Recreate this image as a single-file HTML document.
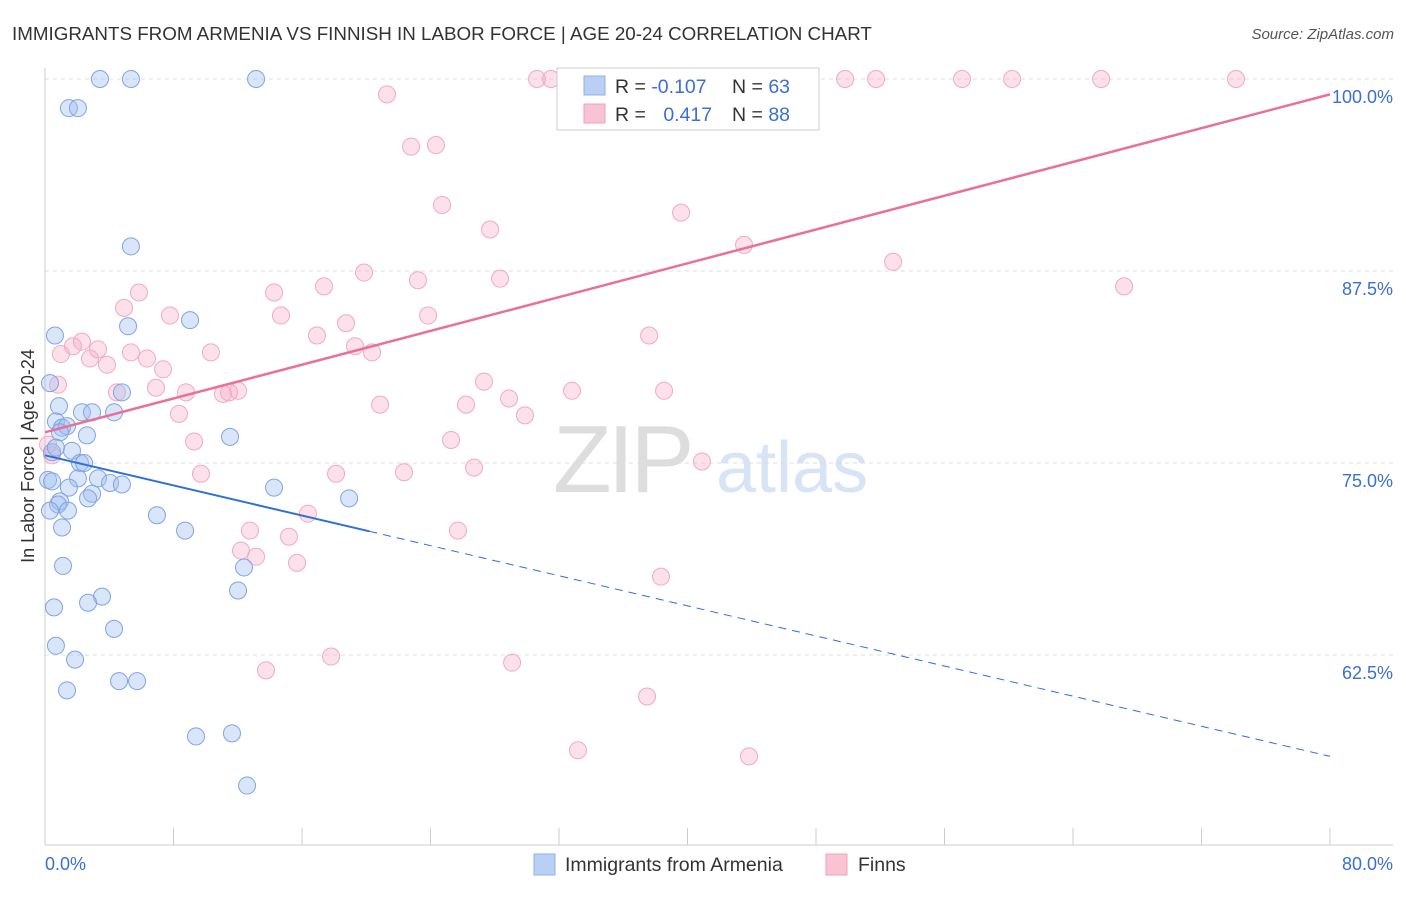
<!DOCTYPE html>
<html><head><meta charset="utf-8"><style>
body{margin:0;background:#fff;font-family:"Liberation Sans",sans-serif}
svg text{font-family:"Liberation Sans",sans-serif}
</style></head><body>
<svg width="1406" height="892" xmlns="http://www.w3.org/2000/svg">
<text x="12" y="40" font-size="18.8" fill="#333">IMMIGRANTS FROM ARMENIA VS FINNISH IN LABOR FORCE | AGE 20-24 CORRELATION CHART</text>
<text x="1394" y="39" font-size="15" fill="#555" text-anchor="end" font-style="italic">Source: ZipAtlas.com</text>
<g><text x="553" y="492" font-size="96" fill="#ddd" font-family="Liberation Serif" letter-spacing="-4">ZIP</text><text x="716" y="492" font-size="72" fill="#d6e4f5">atlas</text></g>
<g id="grid"></g>
<g id="axes"></g>
<g id="marks"></g>
<g id="trend"></g>
<g>
<rect x="557" y="68" width="262" height="62" fill="#fff" stroke="#ccc"/>
<rect x="584" y="76" width="21" height="19" fill="#b9cff3" stroke="#8fb0e8"/>
<rect x="584" y="104" width="21" height="19" fill="#f9c3d3" stroke="#f0a0b8"/>
<text x="615" y="93" font-size="19.5" fill="#333">R = <tspan fill="#3b6fd4">-0.107</tspan></text>
<text x="732" y="93" font-size="19.5" fill="#333">N = <tspan fill="#3b6fd4">63</tspan></text>
<text x="615" y="121" font-size="19.5" fill="#333">R = <tspan fill="#3b6fd4" dx="12">0.417</tspan></text>
<text x="732" y="121" font-size="19.5" fill="#333">N = <tspan fill="#3b6fd4">88</tspan></text>
</g>
<g>
<rect x="534" y="854" width="21" height="21" fill="#b9cff3" stroke="#8fb0e8"/>
<text x="565" y="871" font-size="19.5" fill="#333">Immigrants from Armenia</text>
<rect x="826" y="854" width="21" height="21" fill="#f9c3d3" stroke="#f0a0b8"/>
<text x="858" y="871" font-size="19.5" fill="#333">Finns</text>
</g>
<text x="34" y="456" font-size="18" fill="#333" text-anchor="middle" transform="rotate(-90 34 456)">In Labor Force | Age 20-24</text>
<text x="45" y="870" font-size="18" fill="#3b6fd4">0.0%</text>
<text x="1393" y="870" font-size="18" fill="#3b6fd4" text-anchor="end">80.0%</text>
</svg>
<script>
const blueX=[3.42,5.35,13.14,1.49,2.05,5.35,0.62,5.17,9.03,0.31,4.79,0.87,2.30,2.93,4.30,0.68,1.06,1.37,2.61,0.93,11.52,0.44,1.68,0.68,2.18,2.43,0.19,0.44,2.05,3.30,4.05,4.79,1.49,2.93,2.68,0.93,0.81,0.31,1.43,6.97,14.26,18.93,8.72,1.06,1.12,12.39,12.02,0.56,3.55,2.68,4.30,0.68,1.87,1.37,4.61,5.73,9.40,11.64,12.58];
const blueY=[100,100,100,98.1,98.1,89.1,83.3,83.9,84.3,80.2,79.6,78.7,78.3,78.3,78.3,77.7,77.3,77.4,76.8,77.0,76.7,75.7,75.8,76.0,75.0,75.0,73.9,73.8,74.0,74.0,73.7,73.6,73.4,73.0,72.7,72.5,72.3,71.9,71.9,71.6,73.4,72.7,70.6,70.8,68.3,68.2,66.7,65.6,66.3,65.9,64.2,63.1,62.2,60.2,60.8,60.8,57.2,57.4,54.0];
const pinkX=[30.63,31.50,34.43,35.61,37.04,42.46,44.33,49.81,51.74,57.09,60.21,65.75,74.15,21.29,22.79,24.34,24.72,27.71,39.60,43.52,52.80,67.18,19.86,23.22,28.33,5.85,14.26,17.37,4.92,7.78,14.69,18.74,23.85,16.93,37.61,2.30,1.74,0.99,3.30,5.35,10.33,19.30,20.36,6.35,2.80,3.86,7.35,0.81,27.33,32.81,38.54,6.91,8.78,11.08,11.46,12.02,4.48,28.89,20.86,26.21,29.88,8.34,25.28,9.28,0.19,0.44,26.71,40.90,18.12,22.35,9.71,16.37,25.71,12.76,15.19,12.20,13.14,15.69,38.35,17.81,29.08,13.76,37.48,33.18,43.83];
const pinkY=[100,100,100,100,100,100,100,100,100,100,100,100,100,99.0,95.6,95.7,91.8,90.2,91.3,89.2,88.1,86.5,87.4,86.9,87.0,86.1,86.1,86.5,85.1,84.6,84.6,84.1,84.6,83.3,83.3,82.9,82.6,82.1,82.4,82.2,82.2,82.6,82.2,81.8,81.8,81.4,81.1,80.1,80.3,79.7,79.7,79.9,79.6,79.5,79.6,79.7,79.6,79.2,78.8,78.8,78.1,78.2,76.5,76.4,76.2,75.5,74.7,75.1,74.3,74.4,74.3,71.7,70.6,70.6,70.2,69.3,68.9,68.5,67.6,62.4,62.0,61.5,59.8,56.3,55.9];
const yTicks=[100,87.5,75,62.5];
const yTickLabels=["100.0%","87.5%","75.0%","62.5%"];
const blueTrend=[75.5,55.9];const blueSolidEnd=20.2;
const pinkTrend=[77.0,99.0];
const NS="http://www.w3.org/2000/svg";
const sx=v=>45+v/80*1285;
const sy=v=>79+(100-v)*192/12.5;
function mk(t,a,p){const e=document.createElementNS(NS,t);for(const k in a)e.setAttribute(k,a[k]);p.appendChild(e);return e;}
const grid=document.getElementById('grid'),axes=document.getElementById('axes'),marks=document.getElementById('marks'),trend=document.getElementById('trend');
yTicks.forEach((v,i)=>{
 const l=mk('line',{x1:45,x2:1393,y1:sy(v),y2:sy(v),stroke:'#ddd','stroke-dasharray':'4,4'},grid);
 
 
 const t=mk('text',{x:1393,y:sy(v)+24,'font-size':18,fill:'#3b6fd4','text-anchor':'end'},axes);
 t.textContent=yTickLabels[i];
 
 
});
const ax=mk('line',{x1:45,x2:1393,y1:845,y2:845,stroke:'#ccc'},axes);


const ay=mk('line',{x1:45,x2:45,y1:68,y2:845,stroke:'#ccc'},axes);


for(let i=0;i<=10;i++){const tk=mk('line',{x1:sx(i*8),x2:sx(i*8),y1:828,y2:845,stroke:'#ccc'},axes);
 
 }
pinkX.forEach((x,i)=>{const c=mk('circle',{cx:sx(x),cy:sy(pinkY[i]),r:8.5,fill:'rgba(245,170,195,0.35)',stroke:'#f2a9c0','stroke-width':1},marks);
 
 });
blueX.forEach((x,i)=>{const c=mk('circle',{cx:sx(x),cy:sy(blueY[i]),r:8.5,fill:'rgba(160,190,240,0.4)',stroke:'#7fa4e4','stroke-width':1},marks);
 
 });
const by=x=>blueTrend[0]+(blueTrend[1]-blueTrend[0])*x/80;
const b1=mk('line',{x1:sx(0),y1:sy(by(0)),x2:sx(blueSolidEnd),y2:sy(by(blueSolidEnd)),stroke:'#2f6fd6','stroke-width':2},trend);


const b2=mk('line',{x1:sx(blueSolidEnd),y1:sy(by(blueSolidEnd)),x2:sx(80),y2:sy(by(80)),stroke:'#2f6fd6','stroke-width':1,'stroke-dasharray':'8,6'},trend);


const p1=mk('line',{x1:sx(0),y1:sy(pinkTrend[0]),x2:sx(80),y2:sy(pinkTrend[1]),stroke:'#e8709a','stroke-width':2.5},trend);


</script>
</body></html>
